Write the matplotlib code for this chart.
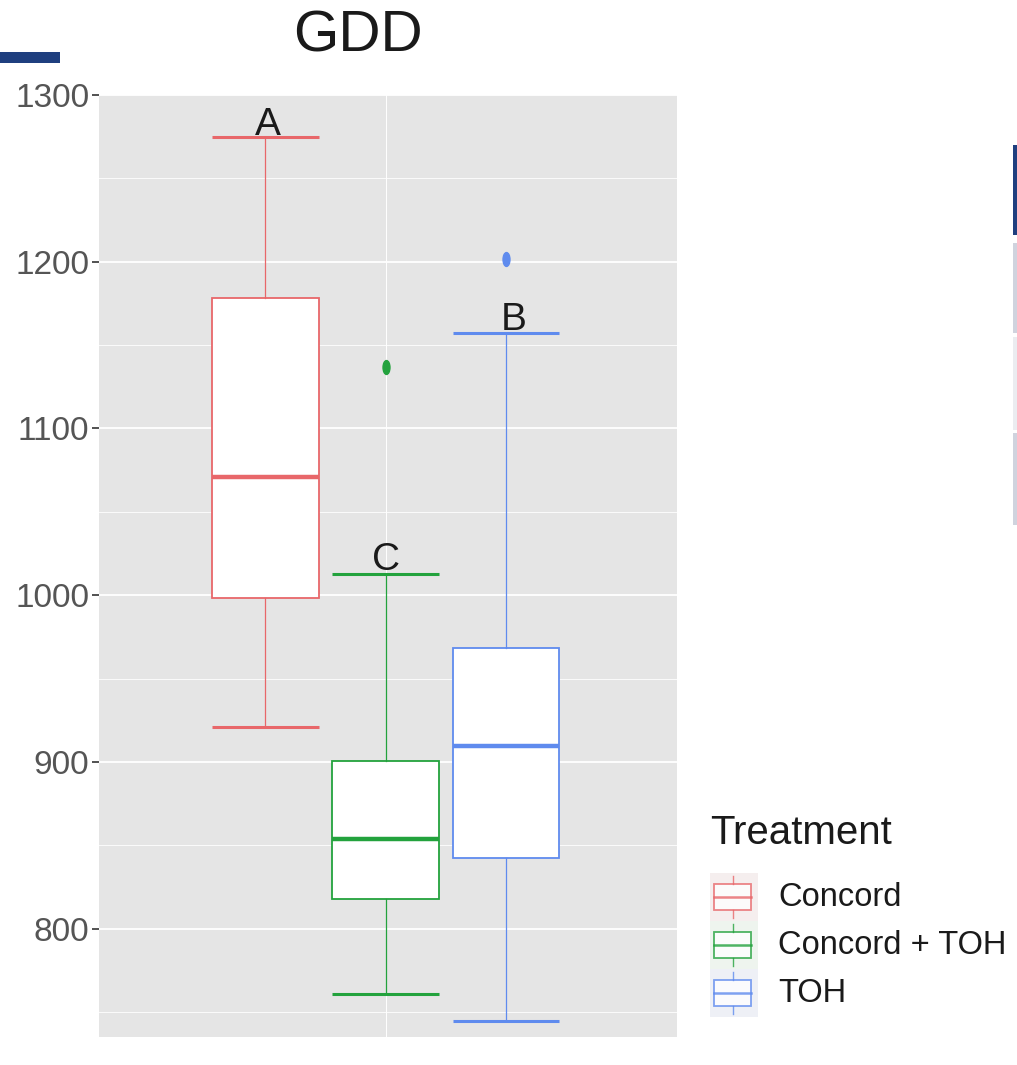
import matplotlib
matplotlib.use("Agg")
import matplotlib.pyplot as plt
from matplotlib.path import Path
from matplotlib.transforms import Affine2D
from matplotlib.patches import Rectangle
import numpy as np

plt.rcParams['font.family'] = ['Liberation Sans', 'DejaVu Sans']

# ---- data ----
treatments = ["Concord", "Concord + TOH", "TOH"]
colors = ["#E8676A", "#23A23D", "#5F8BEE"]
whisker_low = [921.0, 760.5, 744.5]
q1 = [998.5, 817.5, 842.5]
medians = [1070.7, 853.5, 909.7]
q3 = [1178.5, 900.7, 968.3]
whisker_high = [1275.0, 1012.5, 1157.0]
outliers = [[], [1137.0], [1201.5]]
letters = ["A", "C", "B"]
letter_x = [0.755, 1.0, 1.265]
letter_y = [1276.0, 1015.0, 1159.0]
yticks = [800, 900, 1000, 1100, 1200, 1300]
title = "GDD"
legend_title = "Treatment"

W, H = 1017, 1065
fig = plt.figure(figsize=(W / 100, H / 100), dpi=100)
fig.patch.set_facecolor("white")

L, R, T, B = 99, 677, 95, 1037
ax = fig.add_axes([L / W, 1 - B / H, (R - L) / W, (B - T) / H])
ax.set_facecolor("#e5e5e5")

positions = [0.75, 1.0, 1.25]
bw = 0.222
ellipse = Path.unit_circle().transformed(Affine2D().scale(0.5, 1.0))

for i in range(3):
    st = [dict(whislo=whisker_low[i], q1=q1[i], med=medians[i], q3=q3[i],
               whishi=whisker_high[i], fliers=outliers[i])]
    c = colors[i]
    ax.bxp(st, positions=[positions[i]], widths=bw, capwidths=bw,
           patch_artist=True, showfliers=True, manage_ticks=False,
           boxprops=dict(facecolor="white", edgecolor=c, linewidth=1.3),
           medianprops=dict(color=c, linewidth=3.2, solid_capstyle="butt"),
           whiskerprops=dict(color=c, linewidth=0.9),
           capprops=dict(color=c, linewidth=2.2, solid_capstyle="butt"),
           flierprops=dict(marker=ellipse, markersize=10, markerfacecolor=c,
                           markeredgecolor=c, linestyle="none"),
           zorder=3)

for lx, ly, t in zip(letter_x, letter_y, letters):
    ax.text(lx, ly, t, ha="center", va="baseline", fontsize=28,
            color="#1a1a1a", zorder=5)

ax.set_xlim(0.405, 1.605)
ax.set_ylim(735, 1299)
ax.set_yticks(yticks)
ax.set_yticks(np.arange(750, 1300, 100), minor=True)
ax.set_xticks([1.0])
ax.grid(which="major", axis="y", color="white", linewidth=1.3)
ax.grid(which="minor", axis="y", color="white", linewidth=0.6)
ax.grid(which="major", axis="x", color="white", linewidth=0.7)
ax.set_axisbelow(True)
ax.tick_params(axis="y", which="major", labelsize=24, labelcolor="#555555",
               color="#333333", length=5, width=1.2, pad=2)
ax.tick_params(axis="y", which="minor", length=0)
ax.tick_params(axis="x", length=0, labelbottom=False)
for s in ax.spines.values():
    s.set_visible(False)

fig.text(358 / W, 1 - 37 / H, title, ha="center", va="center",
         fontsize=42, color="#1a1a1a")

# overlay in pixel coordinates for legend and decorations
ov = fig.add_axes([0, 0, 1, 1])
ov.set_xlim(0, W)
ov.set_ylim(H, 0)
ov.axis("off")
ov.patch.set_alpha(0)

ov.text(710, 833, legend_title, ha="left", va="center", fontsize=29,
        color="#1a1a1a")
entry_y = [897, 945, 993]
key_bg = ["#f5eeee", "#eef4ee", "#eef0f6"]
for i, (lab, c, yy) in enumerate(zip(treatments, colors, entry_y)):
    ov.add_patch(Rectangle((710, yy - 24), 48, 48, facecolor=key_bg[i],
                           edgecolor="none"))
    ov.add_patch(Rectangle((714, yy - 13), 37, 26, facecolor="white",
                           edgecolor=c, linewidth=1.3, alpha=0.8))
    ov.plot([714, 751], [yy, yy], color=c, linewidth=1.8, alpha=0.8)
    ov.plot([732.5, 732.5], [yy - 21, yy - 13], color=c, linewidth=1.0,
            alpha=0.8)
    ov.plot([732.5, 732.5], [yy + 13, yy + 21], color=c, linewidth=1.0,
            alpha=0.8)
    ov.text(778, yy, lab, ha="left", va="center", fontsize=23.5,
            color="#1a1a1a")

# screenshot decorations
ov.add_patch(Rectangle((0, 52), 60, 11, facecolor="#1f3f7f", edgecolor="none"))
for (y0, y1, col) in [(145, 235, "#1f3f7f"), (243, 333, "#d0d3de"),
                      (337, 430, "#ebecf0"), (433, 525, "#d0d3de")]:
    ov.add_patch(Rectangle((1013, y0), 4, y1 - y0, facecolor=col,
                           edgecolor="none"))

fig.savefig("out.png", dpi=100)
